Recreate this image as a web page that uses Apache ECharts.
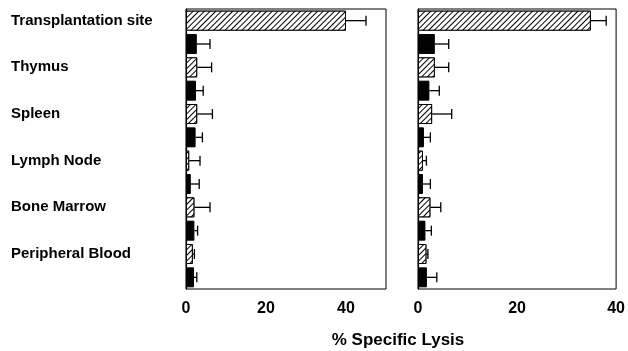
<!DOCTYPE html>
<html>
<head>
<meta charset="utf-8">
<script src="https://cdn.jsdelivr.net/npm/echarts@6/dist/echarts.min.js"></script>
<style>
  html, body { margin: 0; padding: 0; background: #fff; }
  #chart { width: 628px; height: 351px; }
</style>
</head>
<body>
<div id="chart"></div>
<script>
const categories = ["Transplantation site", "Thymus", "Spleen", "Lymph Node", "Bone Marrow", "Peripheral Blood"];

// left panel
const leftHatched = [40, 2.8, 2.8, 0.8, 2.1, 1.7];
const leftHatchedErr = [5, 3.6, 3.8, 2.7, 3.9, 0.4];
const leftSolid = [2.7, 2.5, 2.4, 1.2, 2.1, 2.0];
const leftSolidErr = [3.3, 1.8, 1.7, 2.1, 0.8, 0.7];

// right panel
const rightHatched = [34.9, 3.4, 2.85, 1.0, 2.5, 1.7];
const rightHatchedErr = [3.1, 2.8, 3.95, 0.7, 2.1, 0.3];
const rightSolid = [3.4, 2.3, 1.2, 1.0, 1.5, 1.8];
const rightSolidErr = [2.8, 2.0, 1.3, 1.5, 1.2, 2.0];

const leftTicks = [0, 20, 40];
const rightTicks = [0, 20, 40];

const FONT = "Liberation Sans, Arial, sans-serif";

// each category takes two rows: hatched on top, solid below
const rows = categories.flatMap((c) => [c, c + " "]);

function toRows(vals, slot) {
  const out = rows.map(() => "-");
  vals.forEach((v, i) => { out[i * 2 + slot] = v; });
  return out;
}

function errRows(vals, errs, slot) {
  return vals.map((v, i) => [v + errs[i], i * 2 + slot, v]);
}

const hatch = {
  color: "#fff",
  borderColor: "#000",
  borderWidth: 1,
  decal: {
    symbol: "rect",
    symbolSize: 1,
    color: "#000",
    backgroundColor: "#fff",
    dashArrayX: [1, 0],
    dashArrayY: [1, 3],
    rotation: -Math.PI / 4,
  },
};

function renderErr(params, api) {
  const p0 = api.coord([api.value(2), api.value(1)]);
  const p1 = api.coord([api.value(0), api.value(1)]);
  const style = { stroke: "#000", lineWidth: 1.3 };
  return {
    type: "group",
    children: [
      { type: "line", shape: { x1: p0[0], y1: p0[1], x2: p1[0], y2: p1[1] }, style },
      { type: "line", shape: { x1: p1[0], y1: p1[1] - 5, x2: p1[0], y2: p1[1] + 5 }, style },
    ],
  };
}

function xAxes(gridIndex, max, ticks) {
  return [
    {
      type: "value", gridIndex, min: 0, max, interval: 10, position: "bottom",
      axisLine: { lineStyle: { color: "#000", width: 1.2 } },
      axisTick: { inside: true, length: 4, lineStyle: { color: "#000" } },
      splitLine: { show: false },
      axisLabel: {
        margin: 12, color: "#000", fontFamily: FONT, fontWeight: "bold", fontSize: 16,
        formatter: (v) => (ticks.includes(v) ? String(v) : ""),
        showMaxLabel: true,
      },
    },
    {
      type: "value", gridIndex, min: 0, max, interval: 10, position: "top",
      axisLine: { lineStyle: { color: "#000", width: 1 } },
      axisTick: { inside: true, length: 4, lineStyle: { color: "#000" } },
      splitLine: { show: false },
      axisLabel: { show: false },
    },
  ];
}

function yAxis(gridIndex, showLabels) {
  return {
    type: "category", gridIndex, data: rows, inverse: true,
    axisLine: { lineStyle: { color: "#000", width: 1.2 } },
    axisTick: { show: false },
    axisLabel: {
      show: showLabels, align: "left", margin: 175,
      color: "#000", fontFamily: FONT, fontWeight: "bold", fontSize: 15,
      formatter: (v, i) => (i % 2 === 0 ? v : ""),
    },
  };
}

function panelSeries(xi, yi, hatched, hatchedErr, solid, solidErr) {
  return [
    {
      type: "bar", xAxisIndex: xi, yAxisIndex: yi, barWidth: 20, barGap: "-100%",
      data: toRows(hatched, 0), itemStyle: hatch, silent: true,
    },
    {
      type: "bar", xAxisIndex: xi, yAxisIndex: yi, barWidth: 20, barGap: "-100%",
      data: toRows(solid, 1), itemStyle: { color: "#000", borderColor: "#000", borderWidth: 1 }, silent: true,
    },
    {
      type: "custom", xAxisIndex: xi, yAxisIndex: yi, renderItem: renderErr,
      data: errRows(hatched, hatchedErr, 0).concat(errRows(solid, solidErr, 1)),
      encode: { x: 0, y: 1 }, z: 3, silent: true,
    },
  ];
}

const chart = echarts.init(document.getElementById("chart"));
chart.setOption({
  animation: false,
  backgroundColor: "#fff",
  grid: [
    { left: 186, top: 9, width: 200, height: 280, show: true, borderColor: "#000", borderWidth: 1 },
    { left: 418, top: 9, width: 202, height: 280, show: true, borderColor: "#000", borderWidth: 1 },
  ],
  xAxis: [...xAxes(0, 50, leftTicks), ...xAxes(1, 40, rightTicks)],
  yAxis: [yAxis(0, true), yAxis(1, false)],
  series: [
    ...panelSeries(0, 0, leftHatched, leftHatchedErr, leftSolid, leftSolidErr),
    ...panelSeries(2, 1, rightHatched, rightHatchedErr, rightSolid, rightSolidErr),
  ],
  graphic: [
    {
      type: "text", x: 398, y: 340,
      style: {
        text: "% Specific Lysis", textAlign: "center", textVerticalAlign: "middle",
        font: "bold 17px " + FONT, fill: "#000",
      },
    },
  ],
});
</script>
</body>
</html>
